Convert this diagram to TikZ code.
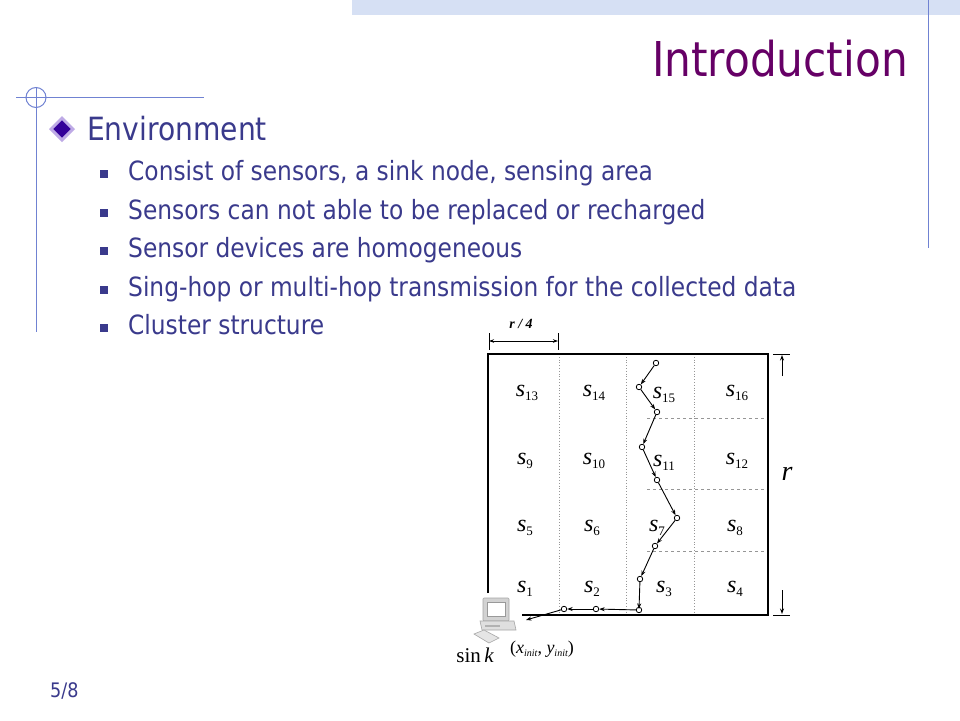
\documentclass[tikz,border=0pt]{standalone}
\usepackage[no-math]{fontspec}
\usetikzlibrary{arrows.meta,shapes.geometric}
\newfontfamily\slidefont{DejaVu Sans}[FakeStretch=0.88]
\newfontfamily\timesfont{Liberation Serif}
\newcommand{\sens}[1]{{\timesfont\fontsize{24}{24}\selectfont\itshape s}\raisebox{-3.5pt}{\timesfont\fontsize{13}{13}\selectfont #1}}
\definecolor{titlepurple}{RGB}{102,0,102}
\definecolor{textblue}{RGB}{58,58,140}
\definecolor{frameblue}{RGB}{112,130,210}
\definecolor{bandblue}{RGB}{214,224,244}
\definecolor{gridgray}{RGB}{150,150,150}
\definecolor{diamondpurple}{RGB}{51,0,153}
\definecolor{diamondrim}{RGB}{190,170,230}

\begin{document}
\begin{tikzpicture}[x=1pt,y=-1pt,
	sensor/.style={shape=circle,draw=black,fill=white,inner sep=0pt,minimum size=5.5pt,line width=0.8pt},
	hop/.style={-{Stealth[length=5.5pt,width=4pt]},line width=0.9pt},
	cell/.style={inner sep=0pt},
	item/.style={anchor=base west,inner sep=0pt,text=textblue,font=\slidefont\fontsize{26.5}{30}\selectfont},
	sqbullet/.style={fill=textblue,inner sep=0pt,minimum size=8pt}]
	
	\useasboundingbox (0,0) rectangle (960,720);
	\fill[white] (0,0) rectangle (960,720);
	
	\fill[bandblue] (352,0) rectangle (960,15);
	\draw[frameblue, line width=1pt] (928,0) -- (928,248);
	\draw[frameblue, line width=1pt] (16,97.5) -- (204,97.5);
	\draw[frameblue, line width=1pt] (36,87) -- (36,332);
	\draw[frameblue, line width=1pt] (36,97.5) circle (10);
	
	\node[anchor=base east, inner sep=0pt, text=titlepurple, font=\slidefont\fontsize{48}{56}\selectfont] (title) at (908,76) {Introduction};
	
	\node[shape=diamond, fill=diamondpurple, draw=diamondrim, line width=3pt, inner sep=0pt, minimum size=23pt] (dia) at (62,129) {};
	\node[anchor=base west, inner sep=0pt, text=textblue, font=\slidefont\fontsize{32}{36}\selectfont] (env) at (87,140) {Environment};
	
	\node[sqbullet] (b1) at (104,174) {};
	\node[sqbullet] (b2) at (104,213) {};
	\node[sqbullet] (b3) at (104,251) {};
	\node[sqbullet] (b4) at (104,290) {};
	\node[sqbullet] (b5) at (104,328) {};
	\node[item] (t1) at (128,180) {Consist of sensors, a sink node, sensing area};
	\node[item] (t2) at (128,219) {Sensors can not able to be replaced or recharged};
	\node[item] (t3) at (128,257) {Sensor devices are homogeneous};
	\node[item] (t4) at (128,296) {Sing-hop or multi-hop transmission for the collected data};
	\node[item] (t5) at (128,334) {Cluster structure};
	
	\node[anchor=base west, inner sep=0pt, text=textblue, font=\slidefont\fontsize{20}{24}\selectfont] (page) at (50,697) {5/8};
	
	\draw[gridgray, dotted, line width=0.8pt] (559,354) -- (559,615);
	\draw[gridgray, dotted, line width=0.8pt] (626,354) -- (626,615);
	\draw[gridgray, dotted, line width=0.8pt] (694,354) -- (694,615);
	\draw[gridgray, dashed, line width=0.8pt] (647,418) -- (768,418);
	\draw[gridgray, dashed, line width=0.8pt] (647,489) -- (768,489);
	\draw[gridgray, dashed, line width=0.8pt] (647,551) -- (768,551);
	\draw[line width=1.2pt] (488,593) -- (488,354) -- (768,354) -- (768,615) -- (522,615);
	
	\node[cell] (s13) at (527,393) {\sens{13}};
	\node[cell] (s14) at (594,393) {\sens{14}};
	\node[cell] (s15) at (664,395) {\sens{15}};
	\node[cell] (s16) at (737,393) {\sens{16}};
	\node[cell] (s9)  at (525,461) {\sens{9}};
	\node[cell] (s10) at (594,461) {\sens{10}};
	\node[cell] (s11) at (664,463) {\sens{11}};
	\node[cell] (s12) at (737,461) {\sens{12}};
	\node[cell] (s5)  at (525,528) {\sens{5}};
	\node[cell] (s6)  at (592,528) {\sens{6}};
	\node[cell] (s7)  at (657,528) {\sens{7}};
	\node[cell] (s8)  at (735,528) {\sens{8}};
	\node[cell] (s1)  at (525,589) {\sens{1}};
	\node[cell] (s2)  at (592,589) {\sens{2}};
	\node[cell] (s3)  at (664,589) {\sens{3}};
	\node[cell] (s4)  at (735,589) {\sens{4}};
	
	\node[sensor] (n1)  at (656,363) {};
	\node[sensor] (n2)  at (639,387) {};
	\node[sensor] (n3)  at (657,412) {};
	\node[sensor] (n4)  at (642,447) {};
	\node[sensor] (n5)  at (657,480) {};
	\node[sensor] (n6)  at (677,518) {};
	\node[sensor] (n7)  at (655,546) {};
	\node[sensor] (n8)  at (640,579) {};
	\node[sensor] (n9)  at (639,610) {};
	\node[sensor] (n10) at (596,609) {};
	\node[sensor] (n11) at (564,609) {};
	\coordinate (snk) at (526,620);
	
	\path[hop] (n1) edge (n2);
	\path[hop] (n2) edge (n3);
	\path[hop] (n3) edge (n4);
	\path[hop] (n4) edge (n5);
	\path[hop] (n5) edge (n6);
	\path[hop] (n6) edge (n7);
	\path[hop] (n7) edge (n8);
	\path[hop] (n8) edge ([yshift=-2pt]n9.north);
	\path[hop] (n9) edge (n10);
	\path[hop] (n10) edge (n11);
	\path[hop] (n11) edge (snk);
	
	\coordinate (qa) at (489,341);
	\coordinate (qb) at (558,341);
	\draw[line width=0.8pt] (489,333) -- (489,350);
	\draw[line width=0.8pt] (558,333) -- (558,350);
	\path[{Stealth[length=5pt,width=3.5pt]}-{Stealth[length=5pt,width=3.5pt]}, line width=0.8pt] (qa) edge (qb);
	\node[font=\timesfont\bfseries\itshape\fontsize{14}{14}\selectfont] (rq) at (521,324) {r / 4};
	
	\coordinate (ra) at (782,376);
	\coordinate (rb) at (782,355);
	\coordinate (rc) at (782,590);
	\coordinate (rd) at (782,614);
	\draw[line width=0.8pt] (773,354) -- (790,354);
	\draw[line width=0.8pt] (773,615) -- (790,615);
	\path[hop] (ra) edge (rb);
	\path[hop] (rc) edge (rd);
	\node[font=\timesfont\fontsize{28}{28}\selectfont] (rlab) at (787,474) {\itshape r};
	
	\fill[gray!35, draw=gray!70, line width=0.6pt, rounded corners=1pt] (483,598) rectangle (509,621);
	\fill[white, draw=gray!80, line width=0.6pt] (487,602) rectangle (505,616);
	\fill[gray!25, draw=gray!70, line width=0.6pt] (480,621) -- (514,621) -- (516,630) -- (482,630) -- cycle;
	\fill[gray!60] (485,625) rectangle (500,627);
	\fill[gray!20, draw=gray!70, line width=0.6pt] (474,634) -- (484,630) -- (499,638) -- (489,643) -- cycle;
	
	\node[font=\timesfont\fontsize{21}{21}\selectfont] (sink) at (475,655) {sin\,{\itshape k}};
	\node[font=\timesfont\fontsize{18}{18}\selectfont] (init) at (542,649) {({\itshape x}\raisebox{-3pt}{\fontsize{10}{10}\selectfont\itshape init}, {\itshape y}\raisebox{-3pt}{\fontsize{10}{10}\selectfont\itshape init})};
	
\end{tikzpicture}
\end{document}
